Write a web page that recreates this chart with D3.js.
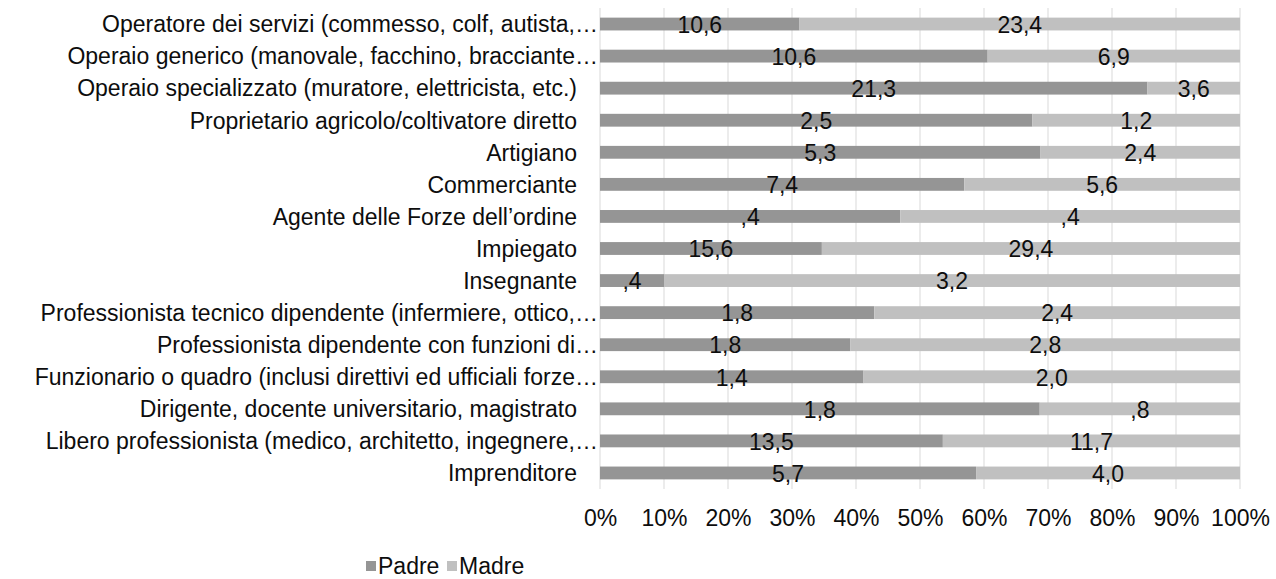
<!DOCTYPE html>
<html><head><meta charset="utf-8">
<script src="https://cdn.jsdelivr.net/npm/d3@7"></script>
<style>body{margin:0;background:#fff;}svg{display:block;font-family:Arial,"Liberation Sans",sans-serif;}</style>
</head><body>
<svg id="chart" width="1276" height="579"></svg>
<script>
const categories = [
  "Operatore dei servizi (commesso, colf, autista,…",
  "Operaio generico (manovale, facchino, bracciante…",
  "Operaio specializzato (muratore, elettricista, etc.)",
  "Proprietario agricolo/coltivatore diretto",
  "Artigiano",
  "Commerciante",
  "Agente delle Forze dell’ordine",
  "Impiegato",
  "Insegnante",
  "Professionista tecnico dipendente (infermiere, ottico,…",
  "Professionista dipendente con funzioni di…",
  "Funzionario o quadro (inclusi direttivi ed ufficiali forze…",
  "Dirigente, docente universitario, magistrato",
  "Libero professionista (medico, architetto, ingegnere,…",
  "Imprenditore"
];
const padre = [10.6,10.6,21.3,2.5,5.3,7.4,0.38,15.6,0.36,1.8,1.8,1.4,1.8,13.5,5.7];
const madre = [23.4,6.9,3.6,1.2,2.4,5.6,0.43,29.4,3.24,2.4,2.8,2.0,0.82,11.7,4.0];
const seriesNames = ["Padre","Madre"];
const seriesColors = ["#959595","#c0c0c0"];
const tickValues = [0,0.1,0.2,0.3,0.4,0.5,0.6,0.7,0.8,0.9,1.0];

const svg = d3.select("#chart");
const FS = 23;
const x = d3.scaleLinear().domain([0,1]).range([600,1240]);
const y = d3.scaleBand().domain(categories).range([8,489]).paddingInner(0.6).paddingOuter(0.3);

const fmt = v => d3.format(".1f")(v).replace(".", ",").replace(/^0,/, ",");

// gridlines
svg.append("g").selectAll("line").data(tickValues).join("line")
  .attr("x1", d=>x(d)).attr("x2", d=>x(d))
  .attr("y1", 8).attr("y2", 489)
  .attr("stroke", "#d9d9d9").attr("stroke-width", 1);

const rows = categories.map((c,i)=>{
  const t = padre[i]+madre[i];
  return {c, vals:[padre[i],madre[i]], fr:[padre[i]/t, madre[i]/t]};
});

const g = svg.append("g");
rows.forEach(r=>{
  let acc = 0;
  r.vals.forEach((v,k)=>{
    const x0 = acc, x1 = acc + r.fr[k];
    g.append("rect").attr("x", x(x0)).attr("width", x(x1)-x(x0))
      .attr("y", y(r.c)).attr("height", y.bandwidth()).attr("fill", seriesColors[k]);
    g.append("text").attr("x", (x(x0)+x(x1))/2).attr("y", y(r.c)+y.bandwidth()/2)
      .attr("dy", "0.38em").attr("text-anchor","middle").attr("font-size", FS).attr("fill","#0d0d0d")
      .text(fmt(v));
    acc = x1;
  });
});

// category labels
svg.append("g").selectAll("text").data(categories).join("text")
  .attr("x", d => d.endsWith("…") ? 598 : 577)
  .attr("y", d => y(d)+y.bandwidth()/2).attr("dy","0.36em")
  .attr("text-anchor","end").attr("font-size",FS).attr("fill","#0d0d0d").text(d=>d);

// x axis ticks
const xAxis = d3.axisBottom(x).tickValues(tickValues).tickFormat(d3.format(".0%")).tickSize(0).tickPadding(0);
const ax = svg.append("g").attr("transform","translate(0,526)").call(xAxis);
ax.select(".domain").remove();
ax.selectAll("text").attr("font-size",FS).attr("fill","#0d0d0d").attr("font-family","Arial, 'Liberation Sans', sans-serif").attr("dy","0");

// legend
const leg = svg.append("g");
const legX = [366, 447];
seriesNames.forEach((n,k)=>{
  leg.append("rect").attr("x", legX[k]).attr("y", 561).attr("width",10).attr("height",10).attr("fill", seriesColors[k]);
  leg.append("text").attr("x", legX[k]+12).attr("y", 574).attr("font-size",FS).attr("fill","#0d0d0d").text(n);
});
</script>
</body></html>
